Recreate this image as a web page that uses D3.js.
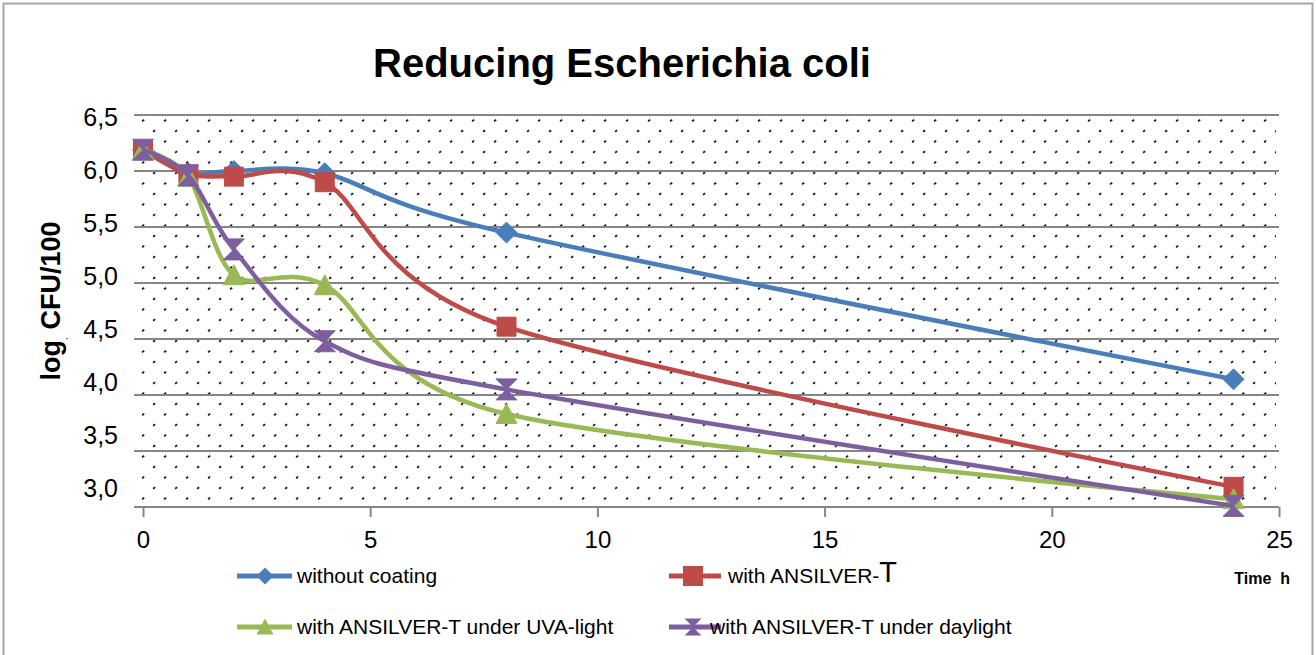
<!DOCTYPE html>
<html lang="en">
<head>
<meta charset="UTF-8">
<title>Reducing Escherichia coli</title>
<script src="https://d3js.org/d3.v7.min.js"></script>
<style>
  body { margin: 0; background: #fff; }
  text { font-family: "Liberation Sans", Arial, sans-serif; }
</style>
</head>
<body>
<div id="chart"></div>
<script>
// data
const hours = [0, 1, 2, 4, 8, 24];
const withoutCoating = [6.19, 5.98, 6.00, 5.98, 5.45, 4.14];
const ansilver = [6.19, 5.97, 5.95, 5.90, 4.61, 3.18];
const ansilverUva = [6.19, 5.95, 5.07, 4.98, 3.83, 3.07];
const ansilverDay = [6.19, 5.96, 5.30, 4.48, 4.05, 3.01];

const seriesNames = ["without coating", "with ANSILVER-T", "with ANSILVER-T under UVA-light", "with ANSILVER-T under daylight"];
const seriesColors = ["#4A7EBB", "#BE4B48", "#98B954", "#7D5FA0"];
const seriesShapes = ["diamond", "square", "triangle", "hourglass"];
const seriesValues = [withoutCoating, ansilver, ansilverUva, ansilverDay];

const yTicks = [3.0, 3.5, 4.0, 4.5, 5.0, 5.5, 6.0, 6.5];
const xTicks = [0, 5, 10, 15, 20, 25];

const width = 1316, height = 655;
const svg = d3.select("#chart").append("svg")
  .attr("width", width).attr("height", height);

// outer chart border
svg.append("rect")
  .attr("x", 3.5).attr("y", 3.5)
  .attr("width", 1309).attr("height", 660)
  .attr("fill", "#fff").attr("stroke", "#a6a6a6").attr("stroke-width", 2);

const x = d3.scaleLinear().domain([0, 25]).range([143, 1279]);
const y = d3.scaleLinear().domain([3.0, 6.5]).range([507, 115]);
// Excel draws the value labels on a slightly compressed spacing
const yLabel = d3.scaleLinear().domain([3.0, 6.5]).range([488, 117]);

// dotted plot fill
const defs = svg.append("defs");
const pat = defs.append("pattern")
  .attr("id", "dots").attr("patternUnits", "userSpaceOnUse")
  .attr("x", 141).attr("y", 119)
  .attr("width", 22).attr("height", 21);
pat.append("line").attr("x1", 1).attr("y1", 2.2).attr("x2", 3.2).attr("y2", 0.8)
  .attr("stroke", "#1a1a1a").attr("stroke-width", 1.7);
pat.append("line").attr("x1", 12).attr("y1", 12.7).attr("x2", 14.2).attr("y2", 11.3)
  .attr("stroke", "#1a1a1a").attr("stroke-width", 1.7);

svg.append("rect")
  .attr("x", x(0) - 3).attr("y", y(6.5) + 2)
  .attr("width", x(25) - x(0)).attr("height", y(3.0) - y(6.5) - 2)
  .attr("fill", "url(#dots)");

// gridlines
svg.append("g").selectAll("line")
  .data(yTicks)
  .join("line")
  .attr("x1", x(0) - 9).attr("x2", x(25))
  .attr("y1", d => y(d)).attr("y2", d => y(d))
  .attr("stroke", "#868686").attr("stroke-width", 2);

// x axis
const xAxis = svg.append("g")
  .attr("transform", `translate(0,${y(3.0)})`)
  .call(d3.axisBottom(x).tickValues(xTicks).tickSize(10).tickPadding(14).tickSizeOuter(0));
xAxis.select(".domain").remove();
xAxis.selectAll(".tick line").attr("stroke", "#868686").attr("stroke-width", 2);
xAxis.selectAll(".tick text")
  .attr("font-size", 24).attr("fill", "#000")
  .attr("font-family", "Liberation Sans, Arial, sans-serif");

// y labels
svg.append("g").selectAll("text")
  .data(yTicks)
  .join("text")
  .attr("x", 118).attr("y", d => yLabel(d))
  .attr("dy", "0.35em").attr("text-anchor", "end")
  .attr("font-size", 25).attr("fill", "#000")
  .text(d => d.toFixed(1).replace(".", ","));

// title
svg.append("text")
  .attr("x", 622).attr("y", 77)
  .attr("text-anchor", "middle")
  .attr("font-size", 40).attr("font-weight", "bold")
  .text("Reducing Escherichia coli");

// y axis title
const yt = svg.append("text")
  .attr("transform", "translate(60,301) rotate(-90)")
  .attr("text-anchor", "middle")
  .attr("font-size", 27).attr("font-weight", "bold");
yt.append("tspan").text("log");
yt.append("tspan").attr("font-size", 9).attr("font-weight", "normal").attr("dy", 6).text("¸");
yt.append("tspan").attr("dy", -6).text(" CFU/100");

// x axis title
svg.append("text")
  .attr("x", 1290).attr("y", 584)
  .attr("text-anchor", "end")
  .attr("font-size", 16).attr("font-weight", "bold")
  .attr("xml:space", "preserve")
  .text("Time  h");

function markerPath(shape, s) {
  const h = s / 2;
  if (shape === "diamond") return `M0,${-h}L${h},0L0,${h}L${-h},0Z`;
  if (shape === "square") return `M${-h + 1},${-h + 1}H${h - 1}V${h - 1}H${-h + 1}Z`;
  if (shape === "triangle") return `M0,${-h}L${h},${h - 1}L${-h},${h - 1}Z`;
  return `M${-h},${-h}H${h}L0,0L${h},${h}H${-h}L0,0Z`;
}

const line = d3.line()
  .x((d, i) => x(hours[i]))
  .y(d => y(d))
  .curve(d3.curveCardinal.tension(0.1));

seriesValues.forEach((vals, k) => {
  const g = svg.append("g");
  g.append("path")
    .attr("d", line(vals))
    .attr("fill", "none")
    .attr("stroke", seriesColors[k])
    .attr("stroke-width", 4.5)
    .attr("stroke-linejoin", "round");
  g.selectAll("path.m")
    .data(vals)
    .join("path")
    .attr("class", "m")
    .attr("transform", (d, i) => `translate(${x(hours[i])},${y(d)})`)
    .attr("d", markerPath(seriesShapes[k], 21))
    .attr("fill", seriesColors[k])
    .attr("stroke", seriesColors[k])
    .attr("stroke-width", 1);
});

// legend
const legendPos = [[237, 576], [669, 576], [237, 627], [669, 627]];
const legendTextX = [60, 59, 60, 41];
seriesNames.forEach((name, k) => {
  const [lx, ly] = legendPos[k];
  const len = k % 2 === 0 ? 55 : 52;
  const lg = svg.append("g").attr("transform", `translate(${lx},${ly})`);
  lg.append("line")
    .attr("x1", 0).attr("x2", len).attr("y1", 0).attr("y2", 0)
    .attr("stroke", seriesColors[k]).attr("stroke-width", 5);
  lg.append("path")
    .attr("transform", `translate(${k % 2 === 0 ? 28 : 24},0)`)
    .attr("d", markerPath(seriesShapes[k], k === 1 ? 22 : 17))
    .attr("fill", seriesColors[k]);
  const t = lg.append("text")
    .attr("x", legendTextX[k]).attr("y", 0).attr("dy", "0.35em")
    .attr("font-size", 21);
  if (k === 1) {
    t.append("tspan").text("with ANSILVER-");
    t.append("tspan").attr("font-size", 29).attr("dy", "-0.05em").text("T");
  } else {
    t.text(name);
  }
});
</script>
</body>
</html>
